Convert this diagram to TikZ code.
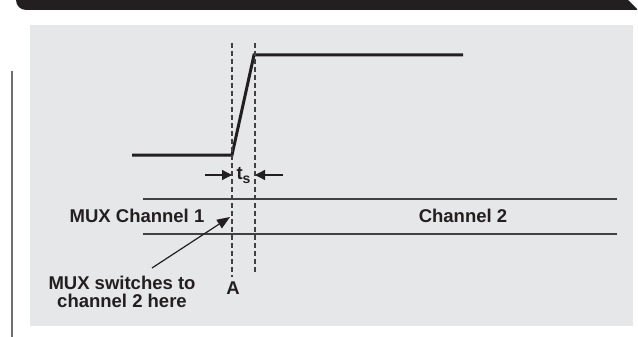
\documentclass[tikz,border=0pt]{standalone}
\usepackage{fontspec}
\setmainfont{Liberation Sans}
\usetikzlibrary{arrows.meta}
\definecolor{ink}{HTML}{231F20}
\definecolor{panel}{HTML}{E6E7E8}
\definecolor{rule}{HTML}{414042}
\definecolor{sidebar}{HTML}{6D6E71}
\tikzset{
  lbl/.style={font=\fontsize{18.5}{18}\selectfont\bfseries, text=ink, inner sep=0pt},
  wave/.style={line width=3pt, draw=ink},
  guide/.style={line width=1.4pt, draw=rule, dash pattern=on 5pt off 3pt},
  track/.style={line width=1.5pt, draw=rule},
  dimarrow/.style={line width=1.3pt, draw=ink, -{Triangle[length=10pt,width=10pt]}},
  callout/.style={line width=1.2pt, draw=ink, -{Triangle[length=13pt,width=10pt]}}
}
\begin{document}
\begin{tikzpicture}[x=1pt,y=-1pt]
\useasboundingbox (0,0) rectangle (638,337);
% header bar
\fill[ink] (16,0) -- (628,0) -- (637,9) -- (637,10) -- (26,10) arc[start angle=90,end angle=180,radius=10] -- cycle;
% side rule
\fill[sidebar] (11,71) rectangle (13,337);
% panel
\fill[panel] (30,25) rectangle (633,326);
% waveform
\coordinate (w0) at (132,155);
\coordinate (w1) at (232,155);
\coordinate (w2) at (254,55);
\coordinate (w3) at (463,55);
\draw[wave, line join=miter] (w0) -- (w1) -- (w2) -- (w3);
% dashed guides
\coordinate (ga) at (232,43);
\coordinate (gab) at (232,277);
\coordinate (gb) at (255,43);
\coordinate (gbb) at (255,273);
\draw[guide] (ga) -- (gab);
\draw[guide] (gb) -- (gbb);
% channel tracks
\coordinate (t1a) at (143,199);
\coordinate (t1b) at (617,199);
\coordinate (t2a) at (143,234);
\coordinate (t2b) at (617,234);
\draw[track] (t1a) -- (t1b);
\draw[track] (t2a) -- (t2b);
% ts dimension
\coordinate (dl) at (205,175);
\coordinate (dlt) at (232,175);
\coordinate (dr) at (283,175);
\coordinate (drt) at (255,175);
\draw[dimarrow] (dl) -- (dlt);
\draw[dimarrow] (dr) -- (drt);
\node[lbl] (ts) at (243.5,176) {t\raisebox{-4pt}{\fontsize{14}{14}\selectfont s}};
% labels
\node[lbl] (ch1) at (137,216) {MUX Channel 1};
\node[lbl] (ch2) at (463,216) {Channel 2};
\node[lbl, align=center] (sw) at (122,292) {MUX switches to\\channel 2 here};
\node[lbl] (a) at (233,288) {A};
\coordinate (tip) at (230,217);
\draw[callout] (152,268) -- (tip);
\end{tikzpicture}
\end{document}
